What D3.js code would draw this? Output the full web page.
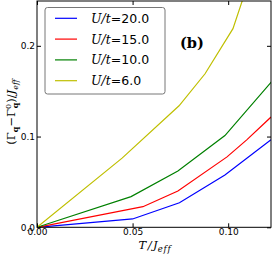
<!DOCTYPE html>
<html><head><meta charset="utf-8">
<script src="https://cdn.jsdelivr.net/npm/d3@7"></script>
<style>body{margin:0;background:#fff}svg{display:block}</style>
</head><body>
<script>
const seriesNames = ["20.0","15.0","10.0","6.0"];
const seriesColors = ["#0000ff","#ff0000","#008000","#bfbf00"];
const tU20 = [0, 0.050, 0.0745, 0.0983, 0.1224];
const gU20 = [0, 0.0092, 0.027, 0.0577, 0.0964];
const tU15 = [0, 0.0554, 0.0737, 0.0994, 0.1097, 0.1224];
const gU15 = [0, 0.0227, 0.040, 0.0776, 0.0964, 0.1215];
const tU10 = [0, 0.0492, 0.0737, 0.0983, 0.1228];
const gU10 = [0, 0.0338, 0.0621, 0.1011, 0.1607];
const tU6 = [0, 0.0445, 0.0743, 0.0879, 0.1025, 0.1098];
const gU6 = [0, 0.0762, 0.1339, 0.1692, 0.2189, 0.2650];
const xTicks = [0, 0.05, 0.10];
const yTicks = [0, 0.1, 0.2];

const W = 273, H = 256;
const m = {l:37, r:271, t:1, b:227.3};
const svg = d3.select("body").append("svg").attr("width",W).attr("height",H);
const x = d3.scaleLinear().domain([0,0.1224]).range([m.l,m.r]);
const y = d3.scaleLinear().domain([0,0.2494]).range([m.b,m.t]);

svg.append("clipPath").attr("id","c").append("rect")
  .attr("x",m.l).attr("y",m.t).attr("width",m.r-m.l).attr("height",m.b-m.t);

const series = [[tU20,gU20],[tU15,gU15],[tU10,gU10],[tU6,gU6]];
const line = d3.line().x(d=>x(d[0])).y(d=>y(d[1]));
const g = svg.append("g").attr("clip-path","url(#c)");
series.forEach((s,i)=>{
  g.append("path").datum(s[0].map((t,j)=>[t,s[1][j]]))
   .attr("d",line).attr("fill","none").attr("stroke",seriesColors[i]).attr("stroke-width",1.2);
});

// frame
svg.append("rect").attr("x",m.l).attr("y",m.t).attr("width",m.r-m.l).attr("height",m.b-m.t)
  .attr("fill","none").attr("stroke","#000").attr("stroke-width",1);

// axes with inward ticks
const fontTick = "DejaVu Sans";
const xb = svg.append("g").attr("transform",`translate(0,${m.b})`)
  .call(d3.axisBottom(x).tickValues(xTicks).tickSize(-4).tickFormat(d3.format(".2f")).tickPadding(1.5));
const xt = svg.append("g").attr("transform",`translate(0,${m.t})`)
  .call(d3.axisTop(x).tickValues(xTicks).tickSize(-4).tickFormat(""));
const yl = svg.append("g").attr("transform",`translate(${m.l},0)`)
  .call(d3.axisLeft(y).tickValues(yTicks).tickSize(-4).tickFormat(d3.format(".1f")).tickPadding(2));
const yr = svg.append("g").attr("transform",`translate(${m.r},0)`)
  .call(d3.axisRight(y).tickValues(yTicks).tickSize(-4).tickFormat(""));
[xb,xt,yl,yr].forEach(a=>{a.select(".domain").remove();
  a.selectAll("text").attr("font-family",fontTick).attr("font-size",9).attr("fill","#000");
  a.selectAll("line").attr("stroke","#000");});
xb.selectAll("text").attr("dy","0.71em");

// x label
const xlab = svg.append("text").attr("x",155).attr("y",248.5).attr("text-anchor","middle")
  .attr("font-family","DejaVu Serif").attr("font-style","italic").attr("font-size",11.5);
xlab.append("tspan").text("T");
xlab.append("tspan").attr("dx",1.5).text("/");
xlab.append("tspan").attr("dx",1.5).text("J");
xlab.append("tspan").attr("font-size",8.5).attr("dy",3).attr("letter-spacing",0.8).text("eff");

// y label
const ylab = svg.append("text").attr("transform","translate(15,112) rotate(-90)").attr("text-anchor","middle")
  .attr("font-family","DejaVu Serif").attr("font-size",11.5);
ylab.append("tspan").text("(Γ");
ylab.append("tspan").attr("font-size",8).attr("dy",3).attr("font-weight","bold").text("q");
ylab.append("tspan").attr("dy",-3).text("−Γ");
ylab.append("tspan").attr("font-size",8).attr("dy",-4.5).text("0");
ylab.append("tspan").attr("font-size",8).attr("dx",-4.5).attr("dy",7.5).attr("font-weight","bold").text("q");
ylab.append("tspan").attr("dy",-3).text(")/");
ylab.append("tspan").attr("font-style","italic").text("J");
ylab.append("tspan").attr("font-size",8).attr("font-style","italic").attr("dy",3).text("eff");

// legend
svg.append("rect").attr("x",45).attr("y",7.5).attr("width",120).attr("height",86.5).attr("rx",2.5)
  .attr("fill","#fff").attr("stroke","#777").attr("stroke-width",1);
seriesNames.forEach((n,i)=>{
  const yy = 18.3 + i*20.8;
  svg.append("line").attr("x1",55).attr("x2",77).attr("y1",yy).attr("y2",yy)
    .attr("stroke",seriesColors[i]).attr("stroke-width",1.2);
  const t = svg.append("text").attr("x",91).attr("y",yy+4.5).attr("font-size",12.5);
  t.append("tspan").attr("font-family","DejaVu Serif").attr("font-style","italic").text("U/t");
  t.append("tspan").attr("font-family","DejaVu Sans").text("="+n);
});

// (b)
svg.append("text").attr("x",180).attr("y",48).attr("font-family","DejaVu Serif")
  .attr("font-weight","bold").attr("font-size",14.5).text("(b)");
</script>
</body></html>
